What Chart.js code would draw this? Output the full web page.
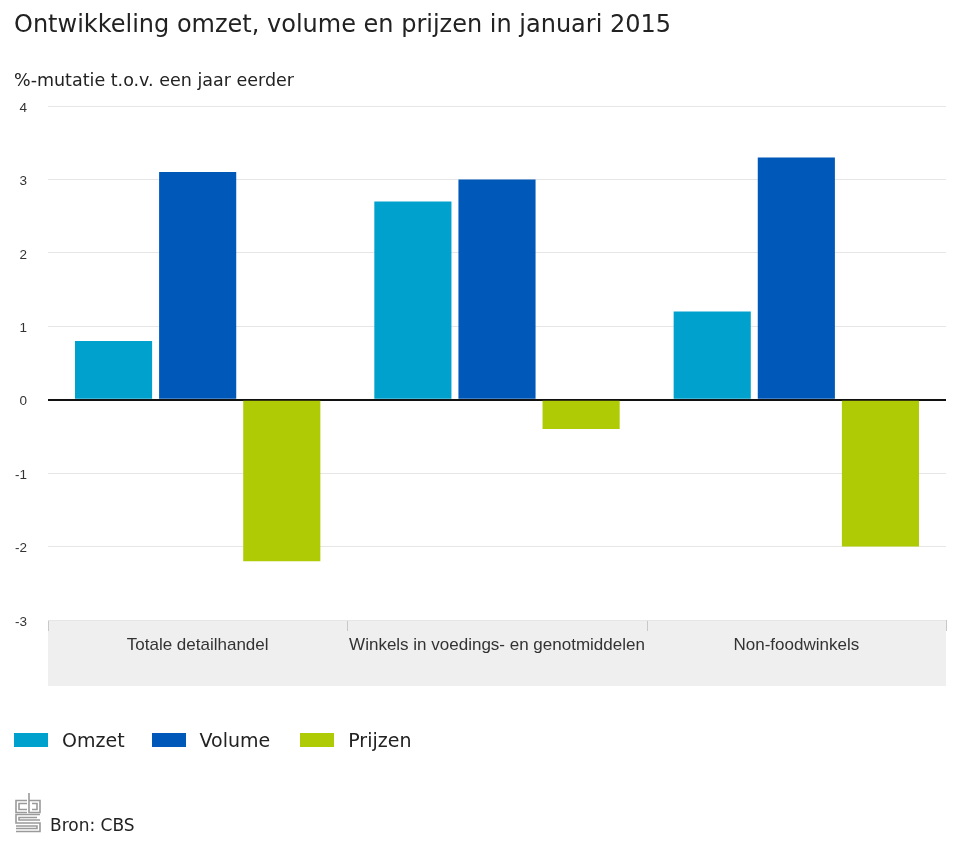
<!DOCTYPE html>
<html>
<head>
<meta charset="utf-8">
<script src="https://cdn.jsdelivr.net/npm/chart.js@4"></script>
<style>
  html, body { margin:0; padding:0; background:#fff; }
  body { width:959px; height:858px; position:relative; overflow:hidden; font-family:"DejaVu Sans", sans-serif; color:#222; }
  #title { position:absolute; left:14px; top:11px; font-size:24px; line-height:1.164; white-space:nowrap; }
  #subtitle { position:absolute; left:14px; top:70px; font-size:17.5px; line-height:1.164; white-space:nowrap; }
  #wrap { position:absolute; left:0; top:0; width:959px; height:858px; }
  #legend { position:absolute; left:14px; top:729px; display:flex; align-items:center; font-size:19px; }
  .item { display:flex; align-items:center; margin-right:27px; }
  .item:nth-child(2) { margin-right:30px; }
  .box { width:34px; height:14px; margin-right:14px; }
  #logo { position:absolute; left:14px; top:792px; }
  #src { position:absolute; left:50px; top:816px; font-size:17px; line-height:1.164; white-space:nowrap; }
</style>
</head>
<body>
<div id="wrap"><canvas id="c"></canvas></div>
<div id="title">Ontwikkeling omzet, volume en prijzen in januari 2015</div>
<div id="subtitle">%-mutatie t.o.v. een jaar eerder</div>
<div id="legend"></div>
<svg id="logo" width="28" height="42" viewBox="0 0 28 42">
  <g fill="none" stroke="#9a9a9a" stroke-width="1.6">
    <path d="M13 8.5 H2 V20.5 H13"/>
    <path d="M13 11.5 H5 V17.5 H13"/>
    <path d="M15 1 V20.5 H26 V8.5 H15"/>
    <path d="M18 11.5 H23 V17.5 H18"/>
    <path d="M26 22.5 H2 V31 H26 V39.5 H2"/>
    <path d="M23 25.5 H5 V28 H26"/>
    <path d="M2 34 H23 V36.5 H2"/>
  </g>
</svg>
<div id="src">Bron: CBS</div>
<script>
const categories = ["Totale detailhandel", "Winkels in voedings- en genotmiddelen", "Non-foodwinkels"];
const seriesNames = ["Omzet", "Volume", "Prijzen"];
const omzet = [0.8, 2.7, 1.2];
const volume = [3.1, 3.0, 3.3];
const prijzen = [-2.2, -0.4, -2.0];
const yTicks = [-3, -2, -1, 0, 1, 2, 3, 4];
const colors = ["#00a1cd", "#0058b8", "#afcb05"];

const values = [omzet, volume, prijzen];

const legend = document.getElementById('legend');
seriesNames.forEach((n, i) => {
  const it = document.createElement('div');
  it.className = 'item';
  it.innerHTML = '<div class="box" style="background:' + colors[i] + '"></div><div>' + n + '</div>';
  legend.appendChild(it);
});

const bandPlugin = {
  id: 'band',
  beforeDraw(chart) {
    const ctx = chart.ctx;
    const a = chart.chartArea;
    const xs = chart.scales.x;
    ctx.save();
    ctx.fillStyle = '#efefef';
    ctx.fillRect(a.left, a.bottom, a.right - a.left, 66);
    ctx.strokeStyle = '#c8c8c8';
    ctx.lineWidth = 1;
    ctx.beginPath();
    ctx.moveTo(a.left, a.bottom + 0.5);
    ctx.lineTo(a.right, a.bottom + 0.5);
    const n = categories.length;
    for (let i = 0; i <= n; i++) {
      let px;
      if (i === 0) px = a.left;
      else if (i === n) px = a.right;
      else px = (xs.getPixelForTick(i - 1) + xs.getPixelForTick(i)) / 2;
      px = Math.round(px) + 0.5;
      ctx.moveTo(px, a.bottom);
      ctx.lineTo(px, a.bottom + 11);
    }
    ctx.stroke();
    ctx.restore();
  }
};

new Chart(document.getElementById('c'), {
  type: 'bar',
  data: {
    labels: categories,
    datasets: seriesNames.map((n, i) => ({
      label: n,
      data: values[i],
      backgroundColor: colors[i],
      borderWidth: 0,
      categoryPercentage: 0.843,
      barPercentage: 0.917
    }))
  },
  options: {
    responsive: true,
    maintainAspectRatio: false,
    animation: false,
    devicePixelRatio: 1,
    layout: { padding: { left: 0, right: 13, top: 106, bottom: 0 } },
    plugins: { legend: { display: false }, tooltip: { enabled: false }, title: { display: false } },
    scales: {
      x: {
        grid: { display: false, drawTicks: false },
        border: { display: false },
        ticks: {
          color: '#333',
          font: { family: 'Liberation Sans', size: 17 },
          padding: 15,
          maxRotation: 0,
          autoSkip: false
        },
        afterFit(scale) { scale.height = 238; }
      },
      y: {
        min: -3,
        max: 4,
        afterBuildTicks(scale) { scale.ticks = yTicks.map(v => ({ value: v })); },
        grid: {
          drawTicks: false,
          color: ctx => (ctx.tick && ctx.tick.value === 0) ? '#111' : '#e6e6e6',
          lineWidth: ctx => (ctx.tick && ctx.tick.value === 0) ? 2 : 1
        },
        border: { display: false },
        ticks: {
          color: '#333',
          font: { family: 'Liberation Sans', size: 13.5 },
          padding: 21,
          labelOffset: 2
        },
        afterFit(scale) { scale.width = 48; }
      }
    }
  },
  plugins: [bandPlugin]
});
</script>
</body>
</html>
